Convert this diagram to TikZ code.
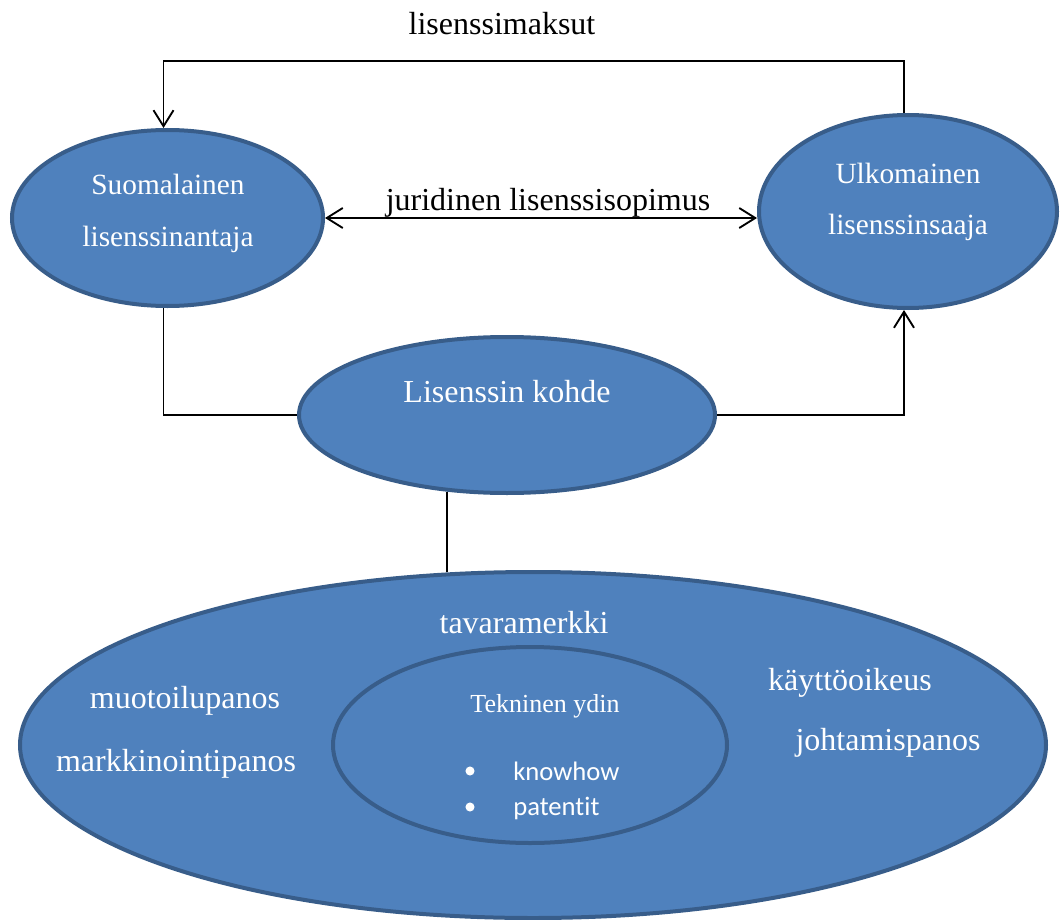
\documentclass[tikz,border=0pt]{standalone}
\usepackage{fontspec}
\setmainfont{Liberation Serif}
\newfontfamily\listfont[Ligatures=NoCommon]{Carlito}
\usetikzlibrary{arrows.meta,shapes.geometric}
\definecolor{ovalfill}{HTML}{4F81BD}
\definecolor{ovaledge}{HTML}{385D8A}
\begin{document}
\begin{tikzpicture}[x=0.75pt,y=-0.75pt,
  oval/.style={ellipse, draw=ovaledge, fill=ovalfill, line width=3pt, inner sep=0pt},
  link/.style={line width=1.4pt, draw=black},
  barb/.style={-{Straight Barb[length=12pt,width=15pt,line width=1.4pt]}},
  twobarb/.style={{Straight Barb[length=12pt,width=15pt,line width=1.4pt]}-{Straight Barb[length=12pt,width=15pt,line width=1.4pt]}},
  big/.style={anchor=base, font=\fontsize{24}{28}\selectfont},
  mid/.style={anchor=base, text=white, font=\fontsize{22}{26}\selectfont},
  core/.style={anchor=base, text=white, font=\fontsize{19.5}{23}\selectfont},
  item/.style={anchor=base west, inner sep=0pt, text=white, font=\listfont\fontsize{20}{24}\selectfont},
  dot/.style={circle, fill=white, inner sep=0pt, minimum size=6.8pt}]
\useasboundingbox (0,0) rectangle (1063,920);

% party ovals
\node[oval, minimum width=233.25pt, minimum height=132pt] (L) at (167.5,218) {};
\node[oval, minimum width=223.5pt, minimum height=144.75pt] (R) at (908,211.5) {};
\node[oval, minimum width=312pt, minimum height=117pt] (C) at (507,415) {};

% object of the licence
\node[oval, minimum width=769.5pt, minimum height=259.5pt] (Big) at (533,745) {};
\node[oval, minimum width=295.5pt, minimum height=147pt] (Core) at (530,745) {};

% connectors
\coordinate (topbar) at (534,61);
\draw[link,barb] ([xshift=-3pt]R.north) |- (topbar) -| ([xshift=-3pt]L.north);
\draw[link,twobarb] (L.east) -- (R.west |- L.east);
\draw[link] ([xshift=-3pt]L.south) |- (C.west);
\draw[link,barb] (C.east) -| ([xshift=-3pt]R.south);
\draw[link] (C.-128) -- (C.-128 |- Big.116);

% labels
\node[big] (fees) at (502,35) {lisenssimaksut};
\node[big] (contract) at (548,210) {juridinen lisenssisopimus};
\node[mid] (l1) at (168,195) {Suomalainen};
\node[mid] (l2) at (168,246) {lisenssinantaja};
\node[mid] (r1) at (908,183) {Ulkomainen};
\node[mid] (r2) at (908,234) {lisenssinsaaja};
\node[big, text=white] (c1) at (507,402) {Lisenssin kohde};
\node[big, text=white] (t1) at (524,633) {tavaramerkki};
\node[big, text=white] (t2) at (185,708) {muotoilupanos};
\node[big, text=white] (t3) at (176,771) {markkinointipanos};
\node[big, text=white] (t4) at (850,690) {käyttöoikeus};
\node[big, text=white] (t5) at (888,750) {johtamispanos};
\node[core] (k0) at (545,712) {Tekninen ydin};
\node[dot] (d1) at (470,771) {};
\node[dot] (d2) at (470,807) {};
\node[item] (k1) at (513,780) {knowhow};
\node[item] (k2) at (513,815) {patentit};
\end{tikzpicture}
\end{document}
